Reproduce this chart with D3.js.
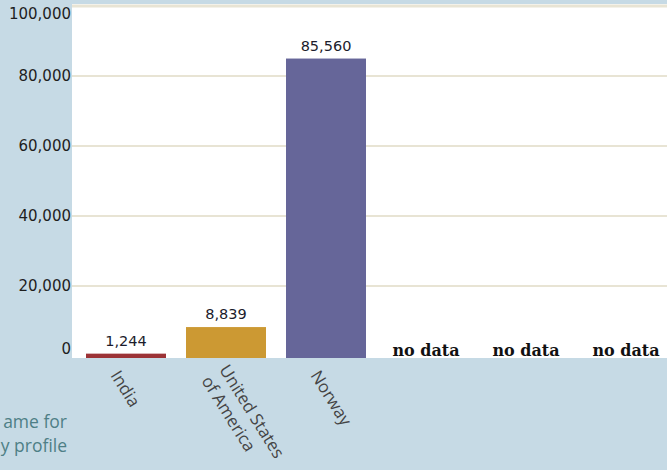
<!DOCTYPE html>
<html>
<head>
<meta charset="utf-8">
<script src="https://cdn.jsdelivr.net/npm/d3@7"></script>
<style>
  body { margin: 0; background: #c6dae5; }
  svg { display: block; }
</style>
</head>
<body>
<div id="chart"></div>
<script>
// chart data
const countries = ["India", "United States of America", "Norway", "c4", "c5", "c6"];
const labelLines = [["India"], ["United States", "of America"], ["Norway"], [], [], []];
const values = [1244, 8839, 85560, null, null, null];
const barColors = ["#9c3336", "#cc9933", "#666699", null, null, null];
const yTicks = [0, 20000, 40000, 60000, 80000, 100000];
const hintLines = ["ame for", "y profile"];

const width = 667, height = 470;
const plotLeft = 72, plotTop = 4, plotBottom = 358;

// scales
const x = d3.scaleBand(countries, [76, 676]).paddingInner(0.2).paddingOuter(0.1);
const y = d3.scaleLinear([0, 100000], [358, 8]);

let svg = d3.select("#chart")
    .append("svg")
    .attr("width", width)
    .attr("height", height);

// white plot area
svg.append("rect")
    .attr("x", plotLeft)
    .attr("y", plotTop)
    .attr("width", width - plotLeft)
    .attr("height", plotBottom - plotTop)
    .style("fill", "#ffffff");

// horizontal grid lines
svg.selectAll("line.grid")
    .data(yTicks.filter(d => d > 0))
    .enter()
    .append("line")
    .attr("class", "grid")
    .attr("x1", plotLeft)
    .attr("x2", width)
    .attr("y1", d => y(d) - 2)
    .attr("y2", d => y(d) - 2)
    .style("stroke", "#e8e4d4")
    .style("stroke-width", d => d === 100000 ? 3 : 2);

// y axis labels (first and last are kept inside the plot)
let yAxis = d3.axisLeft(y).tickValues(yTicks).tickSize(0).tickPadding(1)
    .tickFormat(d3.format(","));
let yg = svg.append("g")
    .attr("transform", "translate(" + plotLeft + ",-2)")
    .call(yAxis);
yg.select(".domain").remove();
yg.selectAll("text")
    .style("font-family", "DejaVu Sans, Verdana, sans-serif")
    .style("font-size", "15px")
    .style("fill", "#1e1e1e")
    .attr("dy", d => d === 0 ? "-0.2em" : (d === 100000 ? "0.8em" : "0.32em"));

// bars
let data = countries.map((c, i) => ({ c: c, v: values[i], color: barColors[i], lines: labelLines[i] }));

svg.selectAll("rect.bar")
    .data(data.filter(d => d.v !== null))
    .enter()
    .append("rect")
    .attr("class", "bar")
    .attr("x", d => x(d.c))
    .attr("width", x.bandwidth())
    .attr("y", d => y(d.v))
    .attr("height", d => y(0) - y(d.v))
    .style("fill", d => d.color);

// value labels
svg.selectAll("text.value")
    .data(data.filter(d => d.v !== null))
    .enter()
    .append("text")
    .attr("class", "value")
    .attr("x", d => x(d.c) + x.bandwidth() / 2)
    .attr("y", d => y(d.v) - 8)
    .attr("text-anchor", "middle")
    .style("font-family", "DejaVu Sans, Verdana, sans-serif")
    .style("font-size", "14.5px")
    .style("fill", "#1c1c2c")
    .text(d => d3.format(",")(d.v));

// no data markers
svg.selectAll("text.nodata")
    .data(data.filter(d => d.v === null))
    .enter()
    .append("text")
    .attr("class", "nodata")
    .attr("x", d => x(d.c) + x.bandwidth() / 2)
    .attr("y", 356)
    .attr("text-anchor", "middle")
    .style("font-family", "DejaVu Serif, Georgia, serif")
    .style("font-size", "16px")
    .style("font-weight", "bold")
    .style("fill", "#111")
    .text("no data");

// rotated country names
let names = svg.selectAll("text.name")
    .data(data.filter(d => d.lines.length > 0))
    .enter()
    .append("text")
    .attr("class", "name")
    .attr("transform", d => "translate(" + (x(d.c) + x.bandwidth() / 2 - 11) + ",372) rotate(58)")
    .style("font-family", "Open Sans, sans-serif")
    .style("font-size", "17px")
    .style("fill", "#444");

names.selectAll("tspan")
    .data(d => d.lines.map((t, i) => ({ t: t, i: i, n: d.lines.length })))
    .enter()
    .append("tspan")
    .attr("x", 0)
    .attr("y", d => (d.i - (d.n - 1) / 2) * 21)
    .attr("dy", "0.35em")
    .text(d => d.t);

// hint text at bottom left (only its end shows in the frame)
svg.append("text")
    .attr("x", 67)
    .attr("y", 428)
    .attr("text-anchor", "end")
    .style("font-family", "Open Sans, sans-serif")
    .style("font-size", "17.5px")
    .style("fill", "#4e7f86")
    .selectAll("tspan")
    .data(hintLines)
    .enter()
    .append("tspan")
    .attr("x", 67)
    .attr("dy", (d, i) => i === 0 ? 0 : 24)
    .text(d => d);
</script>
</body>
</html>
